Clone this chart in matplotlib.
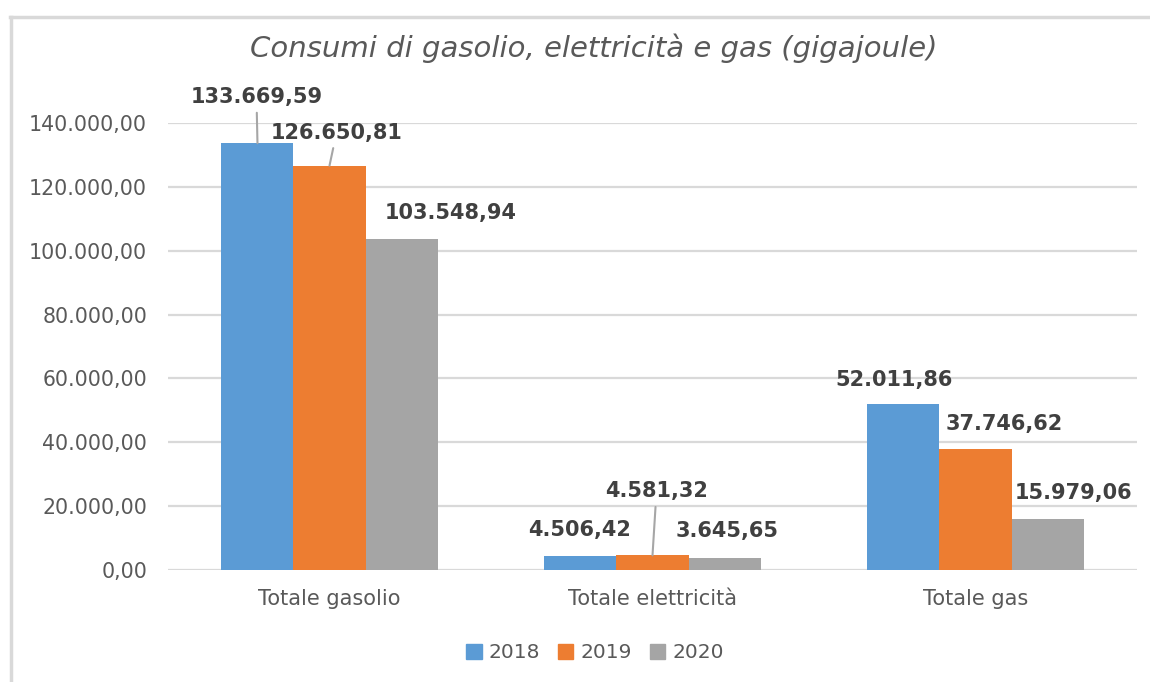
import numpy as np
import matplotlib
matplotlib.use("Agg")
from matplotlib import pyplot as plt
from matplotlib.lines import Line2D
from matplotlib.ticker import FuncFormatter

categories = ["Totale gasolio", "Totale elettricità", "Totale gas"]
years = ["2018", "2019", "2020"]
values_2018 = [133669.59, 4506.42, 52011.86]
values_2019 = [126650.81, 4581.32, 37746.62]
values_2020 = [103548.94, 3645.65, 15979.06]
title = "Consumi di gasolio, elettricità e gas (gigajoule)"

colors = ["#5B9BD5", "#ED7D31", "#A5A5A5"]

# label offsets in pixels from bar top (dx, dy) and whether a leader line is drawn
label_offsets = [
    [(-1, 46, True), (-1, 26, False), (-9, 24, False)],
    [(7, 33, True), (4, 64, True), (29, 25, False)],
    [(49, 26, False), (3, 27, False), (26, 26, False)],
]


def it_fmt(v, decimals=2):
    s = f"{v:,.{decimals}f}"
    return s.replace(",", "X").replace(".", ",").replace("X", ".")


fig = plt.figure(figsize=(11.5, 6.82), dpi=100)
ax = fig.add_axes([168 / 1150, 112 / 682, (1137 - 168) / 1150, (570 - 123) / 682])

x = np.arange(len(categories))
w = 0.223
series = [values_2018, values_2019, values_2020]
for i, vals in enumerate(series):
    rects = ax.bar(x + (i - 1) * w, vals, w, color=colors[i], label=years[i], zorder=3)
    for j, rect in enumerate(rects):
        dx, dy, leader = label_offsets[i][j]
        xc = rect.get_x() + rect.get_width() / 2
        h = rect.get_height()
        arrow = None
        if leader:
            arrow = dict(arrowstyle="-", color="#A6A6A6", lw=1.5, shrinkA=2, shrinkB=0)
        ax.annotate(it_fmt(h), xy=(xc, h), xytext=(dx, dy), textcoords="offset pixels",
                    ha="center", va="center", fontsize=15, fontweight="bold",
                    color="#404040", arrowprops=arrow, zorder=5)

ax.set_xlim(-0.5, 2.5)
ax.set_ylim(0, 140000)
ax.set_yticks(np.arange(0, 140001, 20000))
ax.yaxis.set_major_formatter(FuncFormatter(lambda v, p: it_fmt(v)))
ax.set_xticks(x)
ax.set_xticklabels(categories)
ax.grid(axis="y", color="#D9D9D9", lw=1.6, zorder=0)
for s in ["top", "right", "left", "bottom"]:
    ax.spines[s].set_visible(False)
ax.tick_params(axis="both", length=0, labelcolor="#595959")
ax.tick_params(axis="y", labelsize=14.8, pad=15)
ax.tick_params(axis="x", labelsize=15, pad=14)

fig.text(594 / 1150, 1 - 48 / 682, title, ha="center", va="center", fontsize=21,
         style="italic", color="#595959")

handles = [plt.Rectangle((0, 0), 1, 1, color=c) for c in colors]
fig.legend(handles, years, loc="center", bbox_to_anchor=(595 / 1150, 1 - 653 / 682),
           ncol=3, frameon=False, fontsize=14.5, handlelength=0.75, handleheight=0.75,
           handletextpad=0.35, columnspacing=0.9, labelcolor="#595959")

# outer chart border (left and top edges visible)
fig.add_artist(Line2D([11 / 1150, 11 / 1150], [0, 1 - 17 / 682], transform=fig.transFigure,
                      color="#D9D9D9", lw=2.5))
fig.add_artist(Line2D([10 / 1150, 1], [1 - 17 / 682, 1 - 17 / 682], transform=fig.transFigure,
                      color="#D9D9D9", lw=2.5))

fig.savefig("out.png", dpi=100)
